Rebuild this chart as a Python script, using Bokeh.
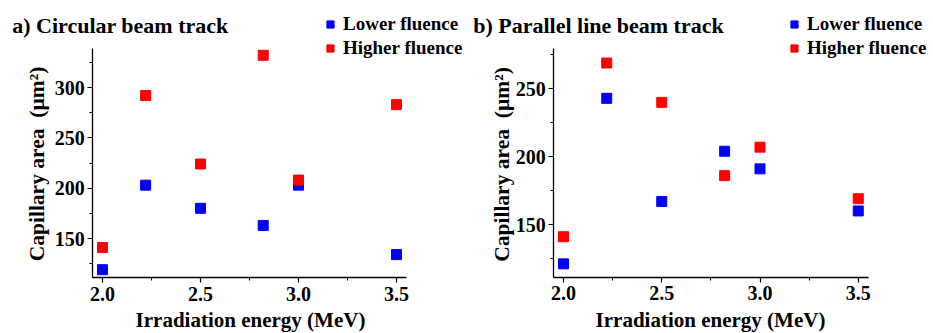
import math
from bokeh.plotting import figure
from bokeh.layouts import row
from bokeh.models import (Range1d, FixedTicker, NumeralTickFormatter, Label,
                          Legend, LegendItem)
from bokeh.embed import file_html
from bokeh.resources import INLINE

# ---- data ----
energy = [2.0, 2.22, 2.5, 2.82, 3.0, 3.5]
circ_lower = [119, 203, 180, 163, 203, 134]
circ_higher = [141, 292, 224, 332, 208, 283]
par_lower = [121, 243, 167, 204, 191, 160]
par_higher = [141, 269, 240, 186, 207, 169]

x_ticks = [2.0, 2.5, 3.0, 3.5]
x_minor = [2.25, 2.75, 3.25]
circ_yticks = [150, 200, 250, 300]
circ_yminor = [125, 175, 225, 275, 325]
par_yticks = [150, 200, 250]
par_yminor = [125, 175, 225, 275]

titles = ["a) Circular beam track", "b) Parallel line beam track"]
series_names = ["Lower fluence", "Higher fluence"]
x_label = "Irradiation energy (MeV)"
y_label = "Capillary area\u00a0 (\u00b5m\u00b2)"
colors = ["#0000FF", "#FF0000"]

FONT = "Liberation Serif"
H = 333  # figure height (frame covers the whole figure)


def make_panel(title, lower, higher, W, xr, yr, xb, yb, yticks, yminor,
               title_x, ylab_x, ylab_y, xlab_x, leg_x):
    p = figure(width=W, height=H, output_backend="svg",
               toolbar_location=None, x_range=Range1d(*xr),
               y_range=Range1d(*yr), min_border=0, min_border_left=0,
               min_border_right=0, min_border_top=0, min_border_bottom=0)
    p.outline_line_color = None
    p.grid.visible = False
    p.background_fill_color = "white"
    p.border_fill_color = "white"

    r1 = p.scatter(energy, lower, marker="square", size=10,
                   fill_color=colors[0], line_color=colors[0])
    r2 = p.scatter(energy, higher, marker="square", size=10,
                   fill_color=colors[1], line_color=colors[1])

    p.xaxis.ticker = FixedTicker(ticks=x_ticks, minor_ticks=x_minor)
    p.xaxis.formatter = NumeralTickFormatter(format="0.0")
    p.yaxis.ticker = FixedTicker(ticks=yticks, minor_ticks=yminor)
    p.xaxis.fixed_location = yb[0]
    p.yaxis.fixed_location = xb[0]
    p.xaxis.bounds = xb
    p.yaxis.bounds = yb

    for ax in (p.xaxis, p.yaxis):
        ax.axis_line_color = "black"
        ax.axis_line_width = 1.3
        ax.major_tick_line_color = "black"
        ax.minor_tick_line_color = "black"
        ax.major_tick_line_width = 1.2
        ax.minor_tick_line_width = 1.0
        ax.major_tick_out = 5
        ax.major_tick_in = 0
        ax.minor_tick_out = 3
        ax.minor_tick_in = 0
        ax.major_label_text_font = FONT
        ax.major_label_text_font_style = "bold"
        ax.major_label_text_font_size = "20px"
        ax.major_label_text_color = "black"
    p.xaxis.major_label_standoff = 4
    p.yaxis.major_label_standoff = 3

    common = dict(x_units="screen", y_units="screen", text_font=FONT,
                  text_font_style="bold", text_color="black")
    # panel title
    p.add_layout(Label(x=title_x, y=H - 25, text=title, text_font_size="22px",
                       text_baseline="alphabetic", text_align="left", **common))
    # y axis label (rotated)
    p.add_layout(Label(x=ylab_x, y=ylab_y, text=y_label, angle=math.pi / 2,
                       text_font_size="21.5px", text_baseline="alphabetic",
                       text_align="center", **common))
    # x axis label
    p.add_layout(Label(x=xlab_x, y=14, text=x_label, text_font_size="21px",
                       text_baseline="alphabetic", text_align="center",
                       **common))

    legend = Legend(items=[LegendItem(label=series_names[0], renderers=[r1]),
                           LegendItem(label=series_names[1], renderers=[r2])],
                    location=(leg_x, H - 59), orientation="vertical",
                    glyph_width=18, glyph_height=18, label_height=22,
                    spacing=2, padding=0, margin=0, label_standoff=4,
                    border_line_color=None, background_fill_alpha=0,
                    label_text_font=FONT, label_text_font_style="bold",
                    label_text_font_size="19px", label_text_color="black")
    p.add_layout(legend, "center")
    return p


# panel a: x 2.0 -> 102 px, 196 px per MeV; y 300 -> 87 px from top, 1.00667 px/unit
pa = make_panel(titles[0], circ_lower, circ_higher, 466,
                (2.0 - 102 / 196, 2.0 + (466 - 102) / 196),
                (300 - (H - 87) / 1.00667, 300 + 87 / 1.00667),
                (1.95, 3.55), (111.2, 338.7), circ_yticks, circ_yminor,
                title_x=11.7, ylab_x=36.5, ylab_y=169.5, xlab_x=250, leg_x=321)
# panel b: x 2.0 -> 97 px, 196.5 px per MeV; y 250 -> 88.3 px from top, 1.357 px/unit
pb = make_panel(titles[1], par_lower, par_higher, 466,
                (2.0 - 97 / 196.5, 2.0 + (466 - 97) / 196.5),
                (250 - (H - 88.3) / 1.357, 250 + 88.3 / 1.357),
                (1.95, 3.55), (111.0, 279.5), par_yticks, par_yminor,
                title_x=6.7, ylab_x=35.8, ylab_y=169, xlab_x=244, leg_x=319)

layout = row(pa, pb)
open("out.html", "w").write(file_html(layout, INLINE))
